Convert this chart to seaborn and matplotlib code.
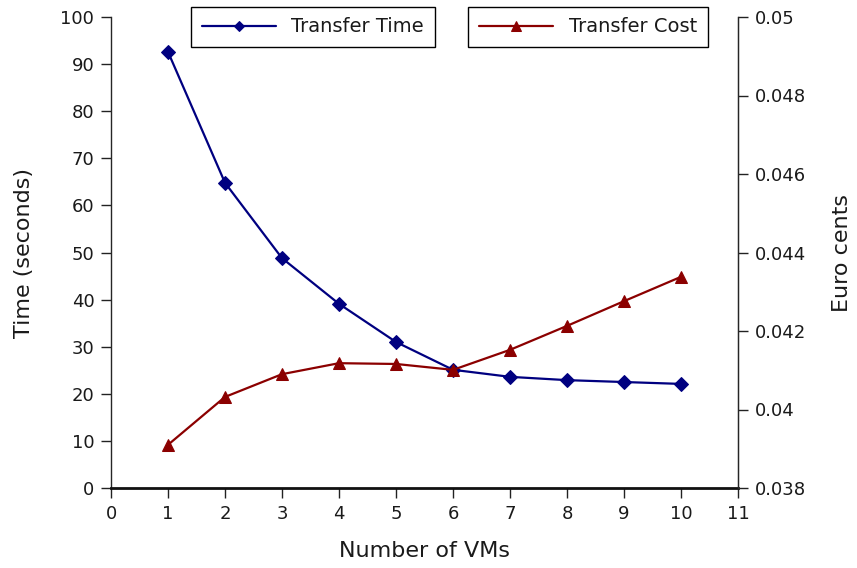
import numpy as np
import pandas as pd
import matplotlib
matplotlib.use("Agg")
import matplotlib.pyplot as plt
import seaborn as sns

# Data
vms = [1, 2, 3, 4, 5, 6, 7, 8, 9, 10]
transfer_time = [92.6, 64.8, 48.8, 39.1, 31.0, 25.1, 23.6, 22.9, 22.5, 22.1]
transfer_cost = [0.03910, 0.04032, 0.04090, 0.04118, 0.04116, 0.04101,
                 0.04152, 0.04213, 0.04276, 0.04338]
x_ticks = list(range(0, 12))
time_ticks = list(range(0, 101, 10))
cost_ticks = [0.038, 0.04, 0.042, 0.044, 0.046, 0.048, 0.05]
cost_labels = ["0.038", "0.04", "0.042", "0.044", "0.046", "0.048", "0.05"]

df = pd.DataFrame({"vms": vms, "time": transfer_time, "cost": transfer_cost})

sns.set_style("ticks")
plt.rcParams["font.family"] = ["DejaVu Sans"]
plt.rcParams["text.color"] = "#1a1a1a"
plt.rcParams["axes.labelcolor"] = "#1a1a1a"

fig = plt.figure(figsize=(8.57, 5.68), dpi=100)
ax = fig.add_axes([111 / 857, 1 - 488 / 568, (738 - 111) / 857, (488 - 17) / 568])
ax2 = ax.twinx()

sns.lineplot(data=df, x="vms", y="time", ax=ax, color="#000080", marker="D",
             markersize=7, markeredgecolor="#000080", linewidth=1.6,
             label="Transfer Time", legend=False)
sns.lineplot(data=df, x="vms", y="cost", ax=ax2, color="#8b0000", marker="^",
             markersize=9, markeredgecolor="#8b0000", linewidth=1.6,
             label="Transfer Cost", legend=False)

ax.set_xlim(0, 11)
ax.set_ylim(0, 100)
ax2.set_ylim(0.038, 0.05)
ax.set_xticks(x_ticks)
ax.set_yticks(time_ticks)
ax2.set_yticks(cost_ticks)
ax2.set_yticklabels(cost_labels)

for a in (ax, ax2):
    a.spines["top"].set_visible(False)
    a.tick_params(labelsize=13, length=7, width=1, pad=5,
                  color="#222222", labelcolor="#1a1a1a")
ax.spines["bottom"].set_linewidth(2)
ax.spines["bottom"].set_color("#111111")
ax.spines["left"].set_linewidth(1)
ax2.spines["right"].set_linewidth(1)
ax2.spines["bottom"].set_visible(False)
ax2.spines["left"].set_visible(False)

ax.set_xlabel("Number of VMs", fontsize=16, labelpad=13)
ax.set_ylabel("Time (seconds)", fontsize=16, labelpad=19)
ax2.set_ylabel("Euro cents", fontsize=16, labelpad=19)

# two separate boxed legends at the top
h1, l1 = ax.get_legend_handles_labels()
h2, l2 = ax2.get_legend_handles_labels()
leg_kw = dict(loc="center", fontsize=14, frameon=True, fancybox=False,
              edgecolor="black", handlelength=3.8, handletextpad=0.8,
              borderpad=0.55, markerscale=0.8)
leg1 = fig.legend(h1, l1, bbox_to_anchor=(313 / 857, 1 - 27 / 568), **leg_kw)
leg2 = fig.legend(h2, l2, bbox_to_anchor=(588 / 857, 1 - 27 / 568), **leg_kw)
for leg in (leg1, leg2):
    leg.get_frame().set_linewidth(1)
    leg.get_frame().set_alpha(1)

fig.savefig("out.png", dpi=100)
